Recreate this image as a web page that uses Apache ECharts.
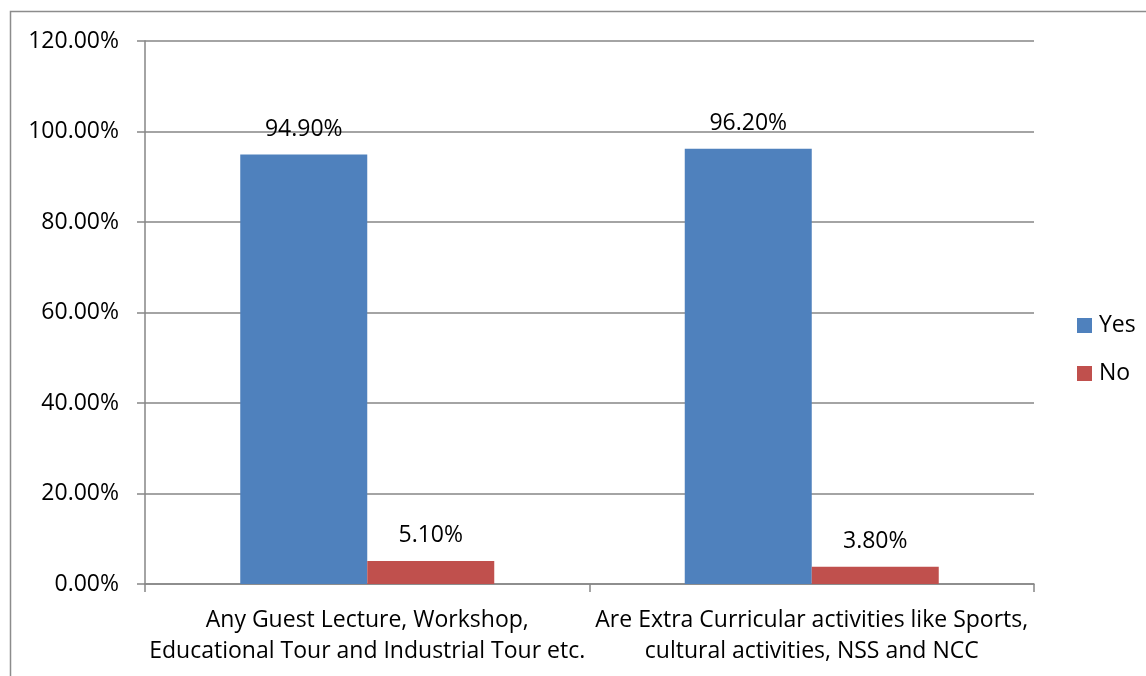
<!DOCTYPE html>
<html>
<head>
<meta charset="utf-8">
<script src="https://cdn.jsdelivr.net/npm/echarts@6/dist/echarts.min.js"></script>
<style>
html,body{margin:0;padding:0;background:#fff;}
#c{width:1146px;height:676px;}
</style>
</head>
<body>
<div id="c"></div>
<script>
const categories = [
  'Any Guest Lecture, Workshop,\nEducational Tour and Industrial Tour etc.',
  'Are Extra Curricular activities like Sports,\ncultural activities, NSS and NCC'
];
const yesValues = [94.9, 96.2];
const noValues = [5.1, 3.8];
const seriesNames = ['Yes', 'No'];

const FONT = 'Open Sans';
const FS = 23;
const chart = echarts.init(document.getElementById('c'));
chart.setOption({
  animation: false,
  backgroundColor: '#fff',
  textStyle: { fontFamily: FONT },
  graphic: [{
    type: 'rect',
    shape: { x: 10.5, y: 11.5, width: 1400, height: 900 },
    style: { fill: 'none', stroke: '#8c8c8c', lineWidth: 1.5 },
    silent: true
  }],
  grid: { left: 145, right: 112, top: 41, bottom: 92 },
  legend: {
    orient: 'vertical',
    left: 1072,
    top: 309,
    itemWidth: 15,
    itemHeight: 15,
    itemGap: 25,
    icon: 'rect',
    textStyle: { fontSize: FS, color: '#000', fontFamily: FONT, padding: [0, 0, 0, 2] },
    data: seriesNames
  },
  xAxis: {
    type: 'category',
    data: categories,
    axisLine: { lineStyle: { color: '#868686', width: 1.5 } },
    axisTick: { show: true, length: 8, alignWithLabel: false, lineStyle: { color: '#868686', width: 1.5 } },
    axisLabel: { fontSize: FS, color: '#000', lineHeight: 31, margin: 21, fontFamily: FONT, interval: 0 }
  },
  yAxis: {
    type: 'value',
    min: 0,
    max: 120,
    interval: 20,
    axisLine: { show: true, lineStyle: { color: '#868686', width: 1.5 } },
    axisTick: { show: true, length: 8, lineStyle: { color: '#868686', width: 1.5 } },
    splitLine: { lineStyle: { color: '#868686', width: 1.5 } },
    axisLabel: { fontSize: FS, color: '#000', margin: 26, fontFamily: FONT,
      formatter: v => v.toFixed(2) + '%' }
  },
  series: [
    {
      name: 'Yes', type: 'bar', data: yesValues, barWidth: 127, barGap: '0%',
      itemStyle: { color: '#4F81BD' },
      label: { show: true, position: 'top', distance: 14, fontSize: FS, color: '#000', fontFamily: FONT,
        formatter: p => p.value.toFixed(2) + '%' }
    },
    {
      name: 'No', type: 'bar', data: noValues, barWidth: 127, barGap: '0%',
      itemStyle: { color: '#C0504D' },
      label: { show: true, position: 'top', distance: 14, fontSize: FS, color: '#000', fontFamily: FONT,
        formatter: p => p.value.toFixed(2) + '%' }
    }
  ]
});
</script>
</body>
</html>
